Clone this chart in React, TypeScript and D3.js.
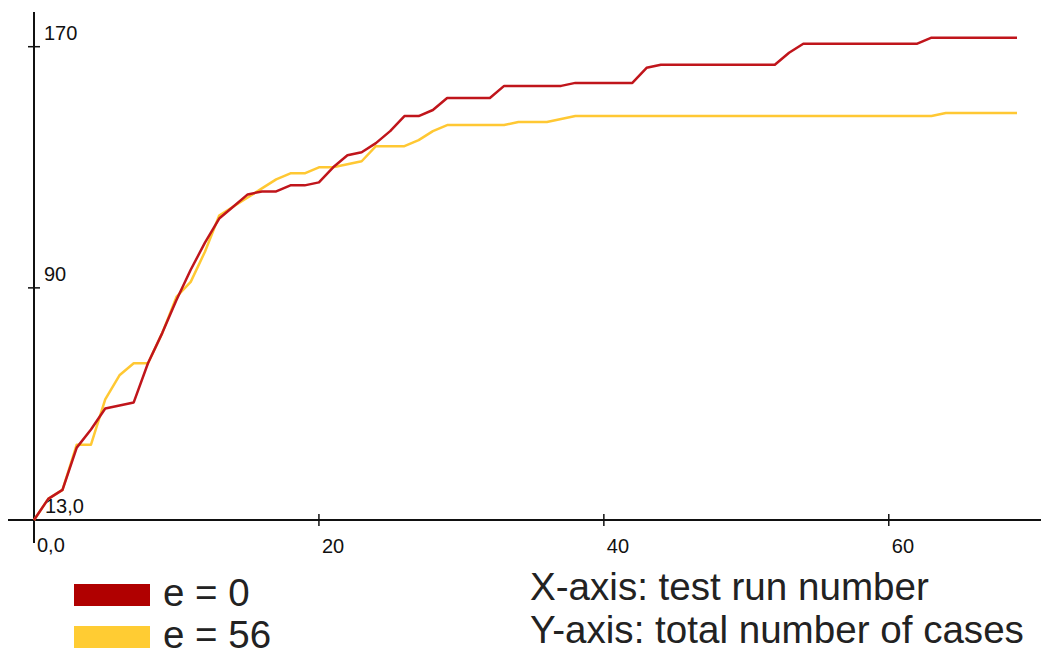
import React from "react";
import * as d3 from "d3";

// cumulative number of cases per test run
const redValues = [
  13, 20, 23, 37, 43, 50, 51, 52, 65, 75,
  86, 96, 105, 113, 117, 121, 122, 122, 124, 124,
  125, 130, 134, 135, 138, 142, 147, 147, 149, 153,
  153, 153, 153, 157, 157, 157, 157, 157, 158, 158,
  158, 158, 158, 163, 164, 164, 164, 164, 164, 164,
  164, 164, 164, 168, 171, 171, 171, 171, 171, 171,
  171, 171, 171, 173, 173, 173, 173, 173, 173, 173,
];
const yellowValues = [
  13, 20, 23, 38, 38, 53, 61, 65, 65, 75,
  87, 92, 102, 114, 117, 120, 123, 126, 128, 128,
  130, 130, 131, 132, 137, 137, 137, 139, 142, 144,
  144, 144, 144, 144, 145, 145, 145, 146, 147, 147,
  147, 147, 147, 147, 147, 147, 147, 147, 147, 147,
  147, 147, 147, 147, 147, 147, 147, 147, 147, 147,
  147, 147, 147, 147, 148, 148, 148, 148, 148, 148,
];
const seriesNames = ["e = 0", "e = 56"];
const seriesColors = ["#c0151b", "#ffc833"];
const swatchColors = ["#b00000", "#ffcc33"];
const xTicks = [20, 40, 60];
const yTicks = [170, 90];
const axisNotes = ["X-axis: test run number", "Y-axis: total number of cases"];

const W = 1045, H = 657;

export default function App() {
  const x = d3.scaleLinear().domain([0, 69]).range([34, 1017]);
  const y = d3.scaleLinear().domain([13, 170]).range([520, 46.7]);

  const line = d3.line<number>()
    .x((d, i) => x(i))
    .y(d => y(d));

  const series = [redValues, yellowValues];
  const font = "'Liberation Sans', Arial, sans-serif";

  return (
    <svg width={W} height={H} style={{ position: "absolute", left: 0, top: 0, background: "#fff" }}
      fontFamily={font}>
      {/* axes */}
      <line x1={x(0)} x2={x(0)} y1={12} y2={543} stroke="#111" strokeWidth={2} />
      <line x1={8} x2={1041} y1={y(13)} y2={y(13)} stroke="#111" strokeWidth={2} />
      {xTicks.map(t => (
        <g key={"x" + t}>
          <line x1={x(t)} x2={x(t)} y1={y(13) - 6} y2={y(13) + 6} stroke="#111" strokeWidth={1.5} />
          <text x={x(t) + 3} y={553} fontSize={20} fill="#111">{t}</text>
        </g>
      ))}
      <text x={x(0) + 3} y={552} fontSize={20} fill="#111">0,0</text>
      {yTicks.map(t => (
        <g key={"y" + t}>
          <line x1={x(0) - 6} x2={x(0) + 6} y1={y(t)} y2={y(t)} stroke="#111" strokeWidth={1.5} />
          <text x={x(0) + 10} y={y(t) - 7} fontSize={20} fill="#111">{t}</text>
        </g>
      ))}
      <text x={x(0) + 11} y={y(13) - 7} fontSize={20} fill="#111">13,0</text>

      {/* lines: yellow below red */}
      {[1, 0].map(k => (
        <path key={k} d={line(series[k]) || ""} fill="none" stroke={seriesColors[k]}
          strokeWidth={2.5} strokeLinejoin="round" />
      ))}

      {/* legend */}
      {seriesNames.map((n, k) => (
        <g key={n} transform={`translate(74, ${584 + k * 42})`}>
          <rect x={0} y={0} width={76} height={22} fill={swatchColors[k]} />
          <text x={89} y={22} fontSize={38.5} fill="#222">{n}</text>
        </g>
      ))}
      {axisNotes.map((n, k) => (
        <text key={n} x={530} y={600 + k * 43} fontSize={38.6} fill="#222">{n}</text>
      ))}
    </svg>
  );
}
